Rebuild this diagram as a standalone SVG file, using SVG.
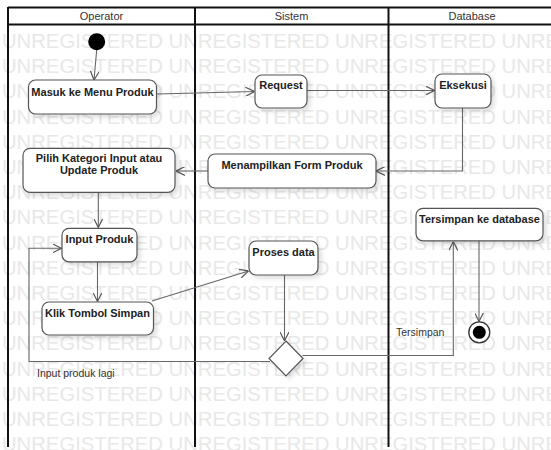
<svg xmlns="http://www.w3.org/2000/svg" width="551" height="450" viewBox="0 0 551 450">
<style>
.wm{font-family:"Liberation Sans",Arial,sans-serif;font-size:20.25px;fill:#e8e8e8}
.lane{stroke:#111;stroke-width:2;fill:none}
.hdr{font-family:"Liberation Sans",Arial,sans-serif;font-size:11px;fill:#333;text-anchor:middle}
.box{fill:#fff;stroke:#555;stroke-width:1.2;filter:url(#sh)}
.lbl{font-family:"Liberation Sans",Arial,sans-serif;font-size:11px;font-weight:bold;fill:#222;text-anchor:middle}
.edge{fill:none;stroke:#666;stroke-width:1.1;marker-end:url(#arr)}
.note{font-family:"Liberation Sans",Arial,sans-serif;font-size:10.5px;fill:#333}
</style>
<defs>
<marker id="arr" viewBox="0 0 10 10" refX="10" refY="5" markerWidth="9" markerHeight="9" markerUnits="userSpaceOnUse" orient="auto">
<path d="M0,0 L10,5 L0,10" fill="none" stroke="#555" stroke-width="1.3"/>
</marker>
<filter id="sh" x="-10%" y="-10%" width="130%" height="140%">
<feDropShadow dx="3" dy="3" stdDeviation="2" flood-color="#000" flood-opacity="0.12"/>
</filter>
</defs>
<rect width="551" height="450" fill="#fff"/>
<g id="watermark">
<text class="wm" x="2" y="48">UNREGISTERED UNREGISTERED UNREGISTERED UNREGISTERED</text>
<text class="wm" x="2" y="73.2">UNREGISTERED UNREGISTERED UNREGISTERED UNREGISTERED</text>
<text class="wm" x="2" y="98.4">UNREGISTERED UNREGISTERED UNREGISTERED UNREGISTERED</text>
<text class="wm" x="2" y="123.6">UNREGISTERED UNREGISTERED UNREGISTERED UNREGISTERED</text>
<text class="wm" x="2" y="148.8">UNREGISTERED UNREGISTERED UNREGISTERED UNREGISTERED</text>
<text class="wm" x="2" y="174">UNREGISTERED UNREGISTERED UNREGISTERED UNREGISTERED</text>
<text class="wm" x="2" y="199.2">UNREGISTERED UNREGISTERED UNREGISTERED UNREGISTERED</text>
<text class="wm" x="2" y="224.4">UNREGISTERED UNREGISTERED UNREGISTERED UNREGISTERED</text>
<text class="wm" x="2" y="249.6">UNREGISTERED UNREGISTERED UNREGISTERED UNREGISTERED</text>
<text class="wm" x="2" y="274.8">UNREGISTERED UNREGISTERED UNREGISTERED UNREGISTERED</text>
<text class="wm" x="2" y="300">UNREGISTERED UNREGISTERED UNREGISTERED UNREGISTERED</text>
<text class="wm" x="2" y="325.2">UNREGISTERED UNREGISTERED UNREGISTERED UNREGISTERED</text>
<text class="wm" x="2" y="350.4">UNREGISTERED UNREGISTERED UNREGISTERED UNREGISTERED</text>
<text class="wm" x="2" y="375.6">UNREGISTERED UNREGISTERED UNREGISTERED UNREGISTERED</text>
<text class="wm" x="2" y="400.8">UNREGISTERED UNREGISTERED UNREGISTERED UNREGISTERED</text>
<text class="wm" x="2" y="426">UNREGISTERED UNREGISTERED UNREGISTERED UNREGISTERED</text>
<text class="wm" x="2" y="451.2">UNREGISTERED UNREGISTERED UNREGISTERED UNREGISTERED</text>
</g>
<g id="lanes">
<rect x="8" y="7.5" width="560" height="17" fill="#fff"/>
<line class="lane" x1="8" y1="7.5" x2="551" y2="7.5" stroke-width="1.5"/>
<line class="lane" x1="8" y1="24.5" x2="551" y2="24.5" stroke-width="1.5"/>
<line class="lane" x1="8" y1="7" x2="8" y2="447"/>
<line class="lane" x1="195" y1="7" x2="195" y2="447"/>
<line class="lane" x1="388.5" y1="7" x2="388.5" y2="447"/>
<text class="hdr" x="101.5" y="19.5">Operator</text>
<text class="hdr" x="291.5" y="19.5">Sistem</text>
<text class="hdr" x="472" y="19.5">Database</text>
</g>
<g id="connectors">
<path class="edge" d="M96.7,50 L94,80"/>
<path class="edge" d="M157,94 L254.5,91.5"/>
<path class="edge" d="M307,90.5 L434.5,90.5"/>
<path class="edge" d="M462.5,108 V171 H376"/>
<path class="edge" d="M208,171 H176"/>
<path class="edge" d="M98.3,192 V227.5"/>
<path class="edge" d="M97.5,262 V301.5"/>
<path class="edge" d="M152,301 L248.5,271"/>
<path class="edge" d="M284.5,275 V341"/>
<path class="edge" d="M270,361.5 H29 V248.3 H61.5"/>
<path class="edge" d="M302.5,355.5 H453.3 V241.5"/>
<path class="edge" d="M479,241 V321.5"/>
<text class="note" x="37" y="376.5">Input produk lagi</text>
<text class="note" x="396" y="336">Tersimpan</text>
</g>
<g id="start">
<circle cx="96.7" cy="41.7" r="8.5" fill="#000"/>
</g>
<g id="masuk">
<rect class="box" x="28.5" y="80" width="128" height="34" rx="7"/>
<text class="lbl" x="92.5" y="96">Masuk ke Menu Produk</text>
</g>
<g id="request">
<rect class="box" x="255" y="75" width="52" height="33" rx="7"/>
<text class="lbl" x="281" y="89">Request</text>
</g>
<g id="eksekusi">
<rect class="box" x="435" y="74" width="56" height="34" rx="7"/>
<text class="lbl" x="463" y="89">Eksekusi</text>
</g>
<g id="menampilkan">
<rect class="box" x="208" y="154" width="168" height="34" rx="7"/>
<text class="lbl" x="292" y="169">Menampilkan Form Produk</text>
</g>
<g id="pilih">
<rect class="box" x="23" y="148.3" width="152" height="44" rx="7"/>
<text class="lbl" x="99" y="162">Pilih Kategori Input atau</text>
<text class="lbl" x="99" y="174">Update Produk</text>
</g>
<g id="input">
<rect class="box" x="62" y="228.3" width="75" height="33.5" rx="7"/>
<text class="lbl" x="99.5" y="243">Input Produk</text>
</g>
<g id="klik">
<rect class="box" x="42" y="302" width="111.5" height="33" rx="7"/>
<text class="lbl" x="97.5" y="316.5">Klik Tombol Simpan</text>
</g>
<g id="proses">
<rect class="box" x="249" y="241" width="69" height="34" rx="7"/>
<text class="lbl" x="283.5" y="255.5">Proses data</text>
</g>
<g id="decision">
<polygon class="box" points="286,341 303,358.5 286,376 269,358.5"/>
</g>
<g id="tersimpan">
<rect class="box" x="416" y="208.3" width="127" height="32.5" rx="7"/>
<text class="lbl" x="479.5" y="223">Tersimpan ke database</text>
</g>
<g id="end">
<circle cx="479.3" cy="332.3" r="10.5" fill="#fff" stroke="#333" stroke-width="1.3"/>
<circle cx="479.3" cy="332.3" r="6.5" fill="#000"/>
</g>
</svg>
